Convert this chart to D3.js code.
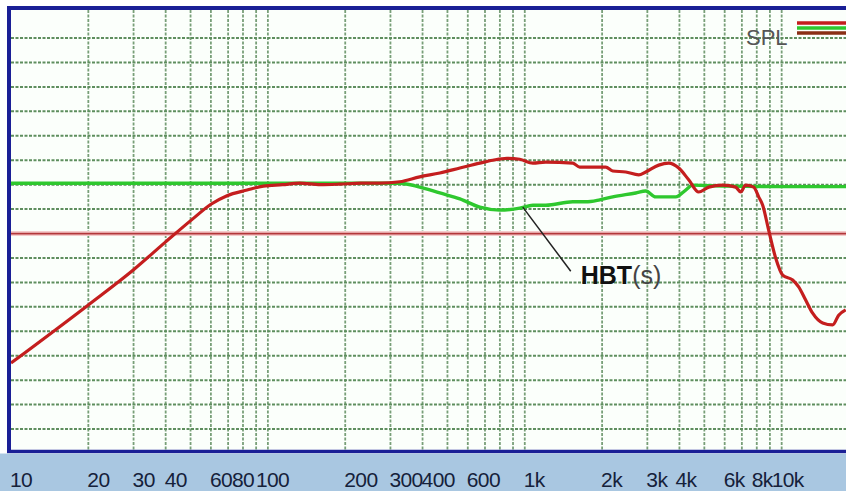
<!DOCTYPE html>
<html>
<head>
<meta charset="utf-8">
<script src="https://cdn.jsdelivr.net/npm/d3@7"></script>
<style>
  body { margin: 0; background: #fff; }
  svg { display: block; }
</style>
</head>
<body>
<svg id="chart"></svg>
<script>
// frequency response, values (dB, 5 dB per division)
const splFreq = [10, 20, 30, 40, 51, 60, 69, 83, 96, 114, 133, 160, 190, 230, 273, 326, 390, 467, 559, 668, 751, 851, 956, 1075, 1207, 1538, 1637, 2066, 2200, 2472, 2777, 2957, 3322, 3634, 3975, 4346, 4753, 5200, 5895, 6622, 6925, 7240, 7783, 8137, 8436, 8900, 9477, 10090, 11035, 11645, 12400, 13200, 14440, 15790, 16670, 17750];
const splDb   = [18.5, 30.4, 37.6, 43.3, 48.0, 51.0, 52.7, 53.9, 54.7, 55.0, 55.3, 55.0, 55.1, 55.3, 55.3, 55.6, 56.6, 57.4, 58.4, 59.4, 60.0, 60.4, 60.2, 59.4, 59.6, 59.4, 58.6, 58.6, 57.8, 57.6, 57.0, 57.6, 59.0, 59.4, 58.4, 56.0, 53.5, 54.5, 54.9, 54.5, 53.5, 54.9, 54.5, 52.5, 50.8, 45.7, 40.0, 36.5, 35.5, 34.1, 31.4, 28.7, 26.7, 26.3, 28.3, 29.4];

const hbtFreq = [10, 100, 326, 390, 467, 559, 668, 798, 956, 1075, 1207, 1538, 1728, 1958, 2200, 2703, 2957, 3233, 3868, 4231, 4506, 6000, 10000, 20000];
const hbtDb   = [55.3, 55.3, 55.3, 54.5, 53.3, 52.1, 50.4, 49.8, 50.2, 50.8, 50.8, 51.5, 51.5, 51.9, 52.5, 53.3, 53.7, 52.5, 52.5, 53.9, 54.9, 54.7, 54.6, 54.6];

const refDb = 45;

const tickFreqs  = [10, 20, 30, 40, 60, 80, 100, 200, 300, 400, 600, 1000, 2000, 3000, 4000, 6000, 8000, 10000];
const tickLabels = ["10", "20", "30", "40", "60", "80", "100", "200", "300", "400", "600", "1k", "2k", "3k", "4k", "6k", "8k", "10k"];

const legendKeys = ["SPL", "HBT(s)", "ref"];
const legendColors = ["#c41e1e", "#2ec82e", "#8a2f16"];

const width = 846;
const height = 491;
const plot = {left: 11, top: 10, right: 846, bottom: 452};

const svg = d3.select("#chart")
    .attr("width", width)
    .attr("height", height)
    .attr("viewBox", [0, 0, width, height]);

const x = d3.scaleLog().domain([10, 20000]).range([11, 859]);
const y = d3.scaleLinear().domain([0, 90]).range([453.5, 13.6]);

svg.append("defs").append("clipPath").attr("id", "plot-clip")
    .append("rect")
    .attr("x", plot.left).attr("y", plot.top)
    .attr("width", plot.right - plot.left).attr("height", plot.bottom - plot.top);

// plot background
svg.append("rect")
    .attr("x", plot.left).attr("y", plot.top)
    .attr("width", plot.right - plot.left).attr("height", plot.bottom - plot.top)
    .attr("fill", "#fbfffb");

const grid = svg.append("g").attr("clip-path", "url(#plot-clip)");

// vertical grid, every 1..9 of each decade
const vTicks = x.ticks(30).filter(f => f > 10);
grid.selectAll("line.v")
    .data(vTicks)
    .join("line")
    .attr("class", "v")
    .attr("x1", d => x(d)).attr("x2", d => x(d))
    .attr("y1", plot.top).attr("y2", plot.bottom)
    .attr("stroke", "#789f78")
    .attr("stroke-width", 1.8)
    .attr("stroke-dasharray", "3,1.5");

// horizontal grid, 5 dB steps
const hTicks = d3.range(5, 90, 5);
grid.selectAll("line.h")
    .data(hTicks)
    .join("line")
    .attr("class", "h")
    .attr("x1", plot.left).attr("x2", plot.right)
    .attr("y1", d => y(d)).attr("y2", d => y(d))
    .attr("stroke", "#5e8e5e")
    .attr("stroke-width", 2)
    .attr("stroke-dasharray", "3,1.5");

// red reference level
grid.append("line")
    .attr("x1", plot.left).attr("x2", plot.right)
    .attr("y1", y(refDb)).attr("y2", y(refDb))
    .attr("stroke", "#f4cccc")
    .attr("stroke-width", 5);
grid.append("line")
    .attr("x1", plot.left).attr("x2", plot.right)
    .attr("y1", y(refDb)).attr("y2", y(refDb))
    .attr("stroke", "#b3373a")
    .attr("stroke-width", 1.8);

const line = d3.line()
    .x(d => x(d[0]))
    .y(d => y(d[1]))
    .curve(d3.curveMonotoneX);

grid.append("path")
    .datum(d3.zip(hbtFreq, hbtDb))
    .attr("fill", "none")
    .attr("stroke", legendColors[1])
    .attr("stroke-width", 3.4)
    .attr("d", line);

grid.append("path")
    .datum(d3.zip(splFreq, splDb))
    .attr("fill", "none")
    .attr("stroke", legendColors[0])
    .attr("stroke-width", 3.2)
    .attr("d", line);

// frame
svg.append("line")
    .attr("x1", 7).attr("x2", width)
    .attr("y1", 8).attr("y2", 8)
    .attr("stroke", "#1a1f96").attr("stroke-width", 4);
svg.append("line")
    .attr("x1", 9).attr("x2", 9)
    .attr("y1", 6).attr("y2", 453)
    .attr("stroke", "#1a1f96").attr("stroke-width", 4);
svg.append("line")
    .attr("x1", 7).attr("x2", width)
    .attr("y1", 451.5).attr("y2", 451.5)
    .attr("stroke", "#1a1f96").attr("stroke-width", 3.5);

// axis strip
svg.append("rect")
    .attr("x", 0).attr("y", 453.5)
    .attr("width", width).attr("height", height - 453.5)
    .attr("fill", "#a9c7e1");

const nudge = {"80": -10, "100": -11, "4k": -3, "8k": -4, "10k": -9};
svg.append("g")
    .selectAll("text")
    .data(d3.zip(tickFreqs, tickLabels))
    .join("text")
    .attr("x", d => x(d[0]) - 1 + (nudge[d[1]] || 0))
    .attr("y", 487)
    .attr("text-anchor", "start")
    .attr("letter-spacing", "-0.6")
    .style("font", "21px 'Liberation Sans', Arial, sans-serif")
    .style("fill", "#15213a")
    .text(d => d[1]);

// legend
const legend = svg.append("g");
legend.append("text")
    .attr("x", 746).attr("y", 45)
    .style("font", "22px 'Liberation Sans', Arial, sans-serif")
    .style("fill", "#555")
    .text(legendKeys[0]);
legend.selectAll("line")
    .data(legendColors)
    .join("line")
    .attr("x1", 797).attr("x2", width)
    .attr("y1", (d, i) => 23 + i * 5)
    .attr("y2", (d, i) => 23 + i * 5)
    .attr("stroke", d => d)
    .attr("stroke-width", 3.5);

// annotation
const anchorF = 1000;
const anchorDb = 50.4;
const labelF = 1510;
const labelDb = 37.3;
svg.append("line")
    .attr("x1", x(anchorF) - 2).attr("y1", y(anchorDb))
    .attr("x2", x(labelF)).attr("y2", y(labelDb))
    .attr("stroke", "#222")
    .attr("stroke-width", 1.5);

const ann = svg.append("text")
    .attr("x", x(labelF) + 10)
    .attr("y", 284)
    .style("font", "25px 'Liberation Sans', Arial, sans-serif");
ann.append("tspan").style("font-weight", "bold").style("fill", "#111").text("HBT");
ann.append("tspan").style("fill", "#444").text("(s)");
</script>
</body>
</html>
